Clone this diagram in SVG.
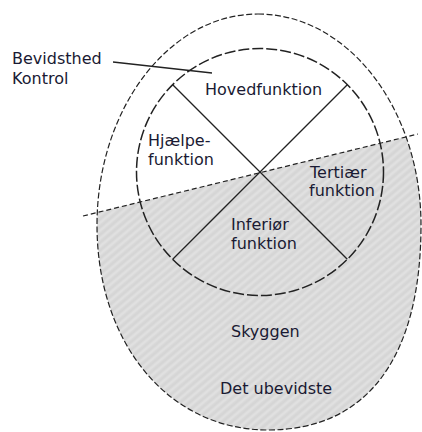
<svg xmlns="http://www.w3.org/2000/svg" width="422" height="432" viewBox="0 0 422 432">
  <style>
    .lbl { font-family: "DejaVu Sans", "Liberation Sans", sans-serif; font-size: 16px; fill: #1a1a33; }
    .egg { fill: none; stroke: #222; stroke-width: 1.2; stroke-dasharray: 6 2.5; }
    .circ { fill: none; stroke: #222; stroke-width: 1.5; stroke-dasharray: 11 3; }
    .solid { stroke: #222; stroke-width: 1.3; fill: none; }
    .divider { stroke: #222; stroke-width: 1.2; stroke-dasharray: 5 3; fill: none; }
  </style>
  <defs>
    <pattern id="hatch" patternUnits="userSpaceOnUse" width="6" height="6" patternTransform="rotate(-40)">
      <rect width="6" height="6" fill="#dadada"/>
      <line x1="0" y1="1" x2="6" y2="1" stroke="#e6e6e6" stroke-width="1"/>
      <line x1="0" y1="4" x2="6" y2="4" stroke="#cecece" stroke-width="0.8"/>
    </pattern>
    <clipPath id="below">
      <polygon points="0,236.3 422,133.1 422,432 0,432"/>
    </clipPath>
    <path id="eggPath" d="M258,14 C348,14 421,109 421,225 C421,358 367,430 268,430 C169,430 97,344 97,225 C97,109 169,14 258,14 Z"/>
  </defs>

  <g id="shadow-fill" clip-path="url(#below)">
    <use href="#eggPath" fill="url(#hatch)" stroke="none"/>
  </g>

  <g id="outer-egg">
    <use href="#eggPath" class="egg"/>
  </g>

  <g id="function-circle">
    <circle cx="260" cy="172" r="123.5" class="circ"/>
    <line x1="172.7" y1="84.7" x2="347.3" y2="259.3" class="solid"/>
    <line x1="347.3" y1="84.7" x2="172.7" y2="259.3" class="solid"/>
  </g>

  <g id="divider">
    <line x1="83" y1="216" x2="418" y2="134" class="divider"/>
  </g>

  <g id="connectors">
    <line x1="113" y1="62" x2="212" y2="73" class="solid"/>
  </g>

  <g id="bevidsthed">
    <text class="lbl" x="12" y="64">Bevidsthed</text>
    <text class="lbl" x="12" y="84">Kontrol</text>
  </g>
  <g id="hovedfunktion">
    <text class="lbl" x="205" y="95">Hovedfunktion</text>
  </g>
  <g id="hjaelpefunktion">
    <text class="lbl" x="148" y="146">Hjælpe-</text>
    <text class="lbl" x="148" y="165">funktion</text>
  </g>
  <g id="tertiaer">
    <text class="lbl" x="310" y="178">Tertiær</text>
    <text class="lbl" x="309" y="196">funktion</text>
  </g>
  <g id="inferioer">
    <text class="lbl" x="231" y="230">Inferiør</text>
    <text class="lbl" x="231" y="249">funktion</text>
  </g>
  <g id="skyggen">
    <text class="lbl" x="231" y="337">Skyggen</text>
  </g>
  <g id="ubevidste">
    <text class="lbl" x="220" y="394">Det ubevidste</text>
  </g>
</svg>
